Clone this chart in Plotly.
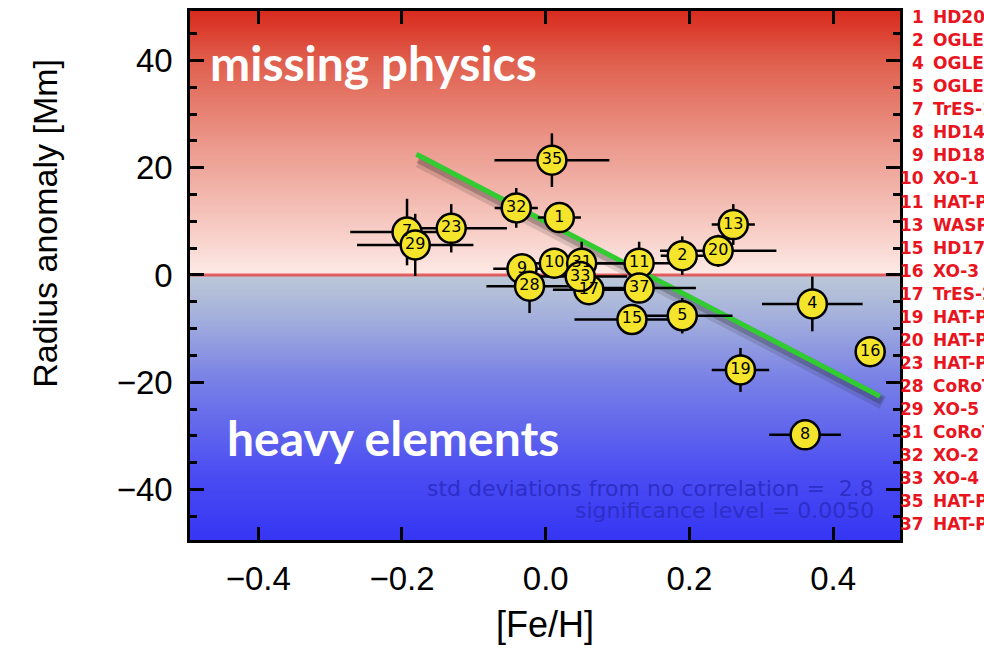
import numpy as np
import plotly.graph_objects as go

# ---- data ----
ids   = [1, 2, 4, 5, 7, 8, 9, 10, 11, 13, 15, 16, 17, 19, 20, 23, 28, 29, 31, 32, 33, 35, 37]
feh   = [0.019, 0.19, 0.371, 0.19, -0.193, 0.361, -0.033, 0.012, 0.13, 0.261, 0.12, 0.4515,
         0.06, 0.271, 0.24, -0.1315, -0.0225, -0.1816, 0.05, -0.041, 0.048, 0.0086, 0.13]
anom  = [10.7, 3.6, -5.4, -7.6, 8.0, -29.8, 1.15, 2.2, 2.2, 9.4, -8.3, -14.3,
         -2.75, -17.7, 4.5, 8.7, -2.1, 5.6, 2.2, 12.5, -0.3, 21.4, -2.45]
feh_err  = [0.03, 0.03, 0.07, 0.07, 0.079, 0.05, 0.04, 0.03, 0.06, 0.03, 0.08, 0.0,
            0.05, 0.04, 0.081, 0.0775, 0.06, 0.081, 0.06, 0.03, 0.065, 0.08, 0.079]
anom_err = [2.0, 3.6, 5.1, 3.3, 6.2, 1.5, 2.0, 2.0, 4.0, 3.8, 2.0, 0.0,
            2.0, 4.1, 3.0, 4.5, 5.0, 5.8, 4.0, 3.7, 3.0, 5.0, 2.0]
names = ["HD209458", "OGLE-TR-10", "OGLE-TR-56", "OGLE-TR-111", "TrES-1", "HD149026",
         "HD189733", "XO-1", "HAT-P-1", "WASP-1", "HD17156", "XO-3", "TrES-2", "HAT-P-3",
         "HAT-P-4", "HAT-P-6", "CoRoT-Exo-2", "XO-5", "CoRoT-Exo-4", "XO-2", "XO-4",
         "HAT-P-12", "HAT-P-14"]
fit_x = [-0.18, 0.465]
fit_y = [22.5, -22.6]
stats_lines = ["std deviations from no correlation =  2.8", "significance level = 0.0050"]
x_ticks = [-0.4, -0.2, 0.0, 0.2, 0.4]
y_ticks = [-40, -20, 0, 20, 40]

XR = [-0.495, 0.493]
YR = [-49.4, 49.2]

# plot area in pixels (for placing paper-referenced texts)
L, R, T, B = 190, 900, 8, 540
def px(xp):
    return (xp - L) / (R - L)
def py(yp):
    return (B - yp) / (B - T)

fig = go.Figure()

# background gradient
yy = np.linspace(YR[0], YR[1], 400)
fig.add_trace(go.Heatmap(
    x=XR, y=yy, z=[[v, v] for v in yy], zmin=-49.3, zmax=49.3, showscale=False,
    hoverinfo="skip",
    colorscale=[[0.0, "#3636f4"], [0.12, "#4a4cf2"], [0.3, "#7880e6"], [0.42, "#a4b0dc"],
                [0.4999, "#bcc8d6"], [0.5, "#fdeae6"], [0.6, "#f6c8c0"], [0.75, "#eb978a"],
                [0.9, "#e0604e"], [1.0, "#d82a1c"]]))

# zero line
fig.add_trace(go.Scatter(x=XR, y=[0, 0], mode="lines", hoverinfo="skip",
                         line=dict(color="rgba(225,80,80,0.9)", width=3), showlegend=False))

# fit line shadow + line
fig.add_trace(go.Scatter(x=[v + 0.004 for v in fit_x], y=[v - 1.2 for v in fit_y], mode="lines",
                         line=dict(color="rgba(30,30,30,0.14)", width=14), hoverinfo="skip", showlegend=False))
fig.add_trace(go.Scatter(x=[v + 0.003 for v in fit_x], y=[v - 0.9 for v in fit_y], mode="lines",
                         line=dict(color="rgba(30,30,30,0.25)", width=8), hoverinfo="skip", showlegend=False))
fig.add_trace(go.Scatter(x=fit_x, y=fit_y, mode="lines",
                         line=dict(color="#30cc30", width=5), showlegend=False))

# data points
fig.add_trace(go.Scatter(
    x=feh, y=anom, mode="markers+text", text=[str(i) for i in ids],
    textposition="middle center", textfont=dict(family="DejaVu Sans", size=16, color="black"),
    marker=dict(size=29, color="#f4e52c", line=dict(color="black", width=2.5)),
    error_x=dict(type="data", array=feh_err, color="black", thickness=2.5, width=0),
    error_y=dict(type="data", array=anom_err, color="black", thickness=2.5, width=0),
    showlegend=False))

ann = []
# region labels
ann.append(dict(text="missing physics", xref="paper", yref="paper", x=px(373), y=py(60),
                xanchor="center", yanchor="middle",
                showarrow=False, font=dict(family="Lato", size=48, color="white", weight="bold")))
ann.append(dict(text="heavy elements", xref="paper", yref="paper", x=px(393), y=py(437),
                xanchor="center", yanchor="middle",
                showarrow=False, font=dict(family="Lato", size=48, color="white", weight="bold")))
for k, line in enumerate(stats_lines):
    ann.append(dict(text=line, xref="paper", yref="paper", x=px(876), y=py(488 + k * 22),
                    xanchor="right", yanchor="middle", showarrow=False,
                    font=dict(family="DejaVu Sans", size=22, color="#2e2ec8")))
# right-hand list
for k, (i, nm) in enumerate(zip(ids, names)):
    yp = py(14 + k * 23.2)
    ann.append(dict(text=str(i), xref="paper", yref="paper", x=px(926), y=yp,
                    xanchor="right", yanchor="middle", showarrow=False,
                    font=dict(family="DejaVu Sans", size=17, color="#e8141e", weight="bold")))
    ann.append(dict(text=nm, xref="paper", yref="paper", x=px(931), y=yp,
                    xanchor="left", yanchor="middle", showarrow=False,
                    font=dict(family="DejaVu Sans", size=17, color="#e8141e", weight="bold")))
# y-axis title
ann.append(dict(text="Radius anomaly [Mm]", xref="paper", yref="paper", x=px(45), y=py(222),
                xanchor="center", yanchor="middle", textangle=-90, showarrow=False,
                font=dict(family="Liberation Sans", size=34, color="black")))

fig.update_layout(
    width=984, height=655, margin=dict(l=L, r=984 - R, t=T, b=655 - B),
    paper_bgcolor="white", plot_bgcolor="white", showlegend=False,
    annotations=ann,
    xaxis=dict(range=XR, tickvals=x_ticks, ticktext=[("\u2212%.1f" % -v) if v < 0 else "%.1f" % v for v in x_ticks],
               ticks="inside", ticklen=13, tickwidth=2.5, tickcolor="black",
               showline=True, linewidth=2.5, linecolor="black", mirror="ticks",
               showgrid=False, zeroline=False, ticklabelstandoff=8,
               tickfont=dict(family="Liberation Sans", size=33, color="black"),
               title=dict(text="[Fe/H]", font=dict(family="Liberation Sans", size=36, color="black"),
                          standoff=16)),
    yaxis=dict(range=YR, tickvals=y_ticks, ticktext=[("\u2212%d" % -v) if v < 0 else "%d" % v for v in y_ticks],
               ticks="inside", ticklen=14, tickwidth=2.5, tickcolor="black",
               minor=dict(dtick=5, tick0=0, ticks="inside", ticklen=7, tickwidth=2.5, tickcolor="black"),
               showline=True, linewidth=2.5, linecolor="black", mirror="ticks",
               showgrid=False, zeroline=False, ticklabelstandoff=8,
               tickfont=dict(family="Liberation Sans", size=33, color="black")),
)

fig.write_html("out.html")
